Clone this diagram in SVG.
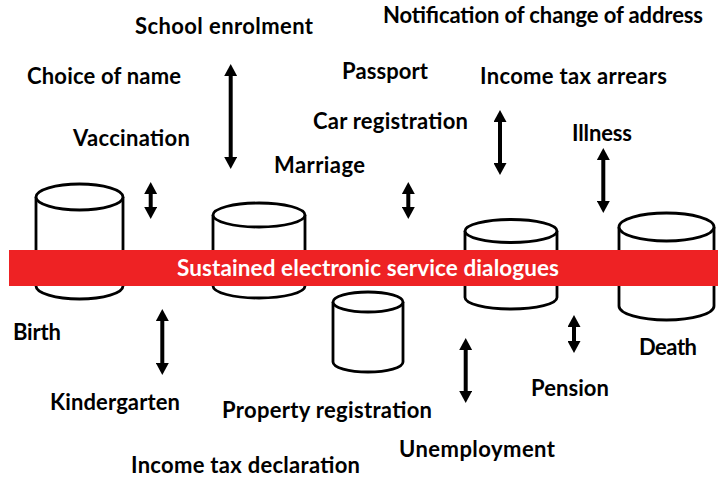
<svg xmlns="http://www.w3.org/2000/svg" width="718" height="479" viewBox="0 0 718 479">
<style>
.cyl{fill:#fff;stroke:#000;stroke-width:2.8}
.lbl{font-family:Lato,"Liberation Sans",sans-serif;font-weight:bold;font-size:22px;fill:#000}
.bar{fill:#EE2224}
.bartxt{font-family:Lato,"Liberation Sans",sans-serif;font-weight:bold;font-size:22.5px;fill:#fff}
.arr{stroke:#000;stroke-width:4;fill:none;marker-start:url(#ah);marker-end:url(#ah)}
</style>
<defs>
<marker id="ah" viewBox="0 0 12 13" markerWidth="12" markerHeight="13" refX="2" refY="6.5" orient="auto-start-reverse" markerUnits="userSpaceOnUse">
<path d="M0,0 L12,6.5 L0,13 Z" fill="#000"/>
</marker>
</defs>
<g id="cylinders">
<g id="cyl-birth"><path class="cyl" d="M36,197 V286 A43.5,13 0 0 0 123,286 V197"/><ellipse class="cyl" cx="79.5" cy="197" rx="43.5" ry="13"/></g>
<g id="cyl-2"><path class="cyl" d="M213,215 V286 A46,12 0 0 0 305,286 V215"/><ellipse class="cyl" cx="259" cy="215" rx="46" ry="12"/></g>
<g id="cyl-4"><path class="cyl" d="M465,231 V297.5 A46,11.5 0 0 0 557,297.5 V231"/><ellipse class="cyl" cx="511" cy="231" rx="46" ry="11.5"/></g>
<g id="cyl-death"><path class="cyl" d="M619,227 V306 A47.5,14 0 0 0 714,306 V227"/><ellipse class="cyl" cx="666.5" cy="227" rx="47.5" ry="14"/></g>
</g>
<g id="band">
<rect class="bar" x="9" y="250" width="709" height="36"/>
<text class="bartxt" x="177" y="276" textLength="382">Sustained electronic service dialogues</text>
</g>
<g id="cyl-3"><path class="cyl" d="M333,302 V362 A35,10 0 0 0 403,362 V302"/><ellipse class="cyl" cx="368" cy="302" rx="35" ry="10"/></g>
<g id="connectors">
<line class="arr" x1="230.7" y1="74" x2="230.7" y2="159"/>
<line class="arr" x1="150.7" y1="192" x2="150.7" y2="209"/>
<line class="arr" x1="162.3" y1="319" x2="162.3" y2="365"/>
<line class="arr" x1="408.3" y1="192" x2="408.3" y2="209"/>
<line class="arr" x1="500" y1="120" x2="500" y2="165"/>
<line class="arr" x1="603.3" y1="158" x2="603.3" y2="203"/>
<line class="arr" x1="465.7" y1="348" x2="465.7" y2="393"/>
<line class="arr" x1="574" y1="325" x2="574" y2="343"/>
</g>
<g id="labels">
<g id="n-school"><text class="lbl" x="135" y="34" textLength="178">School enrolment</text></g>
<g id="n-name"><text class="lbl" x="27" y="84" textLength="154">Choice of name</text></g>
<g id="n-vacc"><text class="lbl" x="73" y="146" textLength="117">Vaccination</text></g>
<g id="n-marriage"><text class="lbl" x="274" y="173" textLength="91">Marriage</text></g>
<g id="n-passport"><text class="lbl" x="342" y="79" textLength="86">Passport</text></g>
<g id="n-notif"><text class="lbl" x="383" y="23" textLength="320">Notification of change of address</text></g>
<g id="n-arrears"><text class="lbl" x="480" y="84" textLength="187">Income tax arrears</text></g>
<g id="n-car"><text class="lbl" x="313" y="129" textLength="155">Car registration</text></g>
<g id="n-illness"><text class="lbl" x="572" y="141" textLength="60">Illness</text></g>
<g id="n-birth"><text class="lbl" x="13" y="340" textLength="48">Birth</text></g>
<g id="n-kinder"><text class="lbl" x="50" y="410" textLength="130">Kindergarten</text></g>
<g id="n-property"><text class="lbl" x="222" y="418" textLength="210">Property registration</text></g>
<g id="n-taxdecl"><text class="lbl" x="131" y="473" textLength="229">Income tax declaration</text></g>
<g id="n-unemp"><text class="lbl" x="399" y="457" textLength="156">Unemployment</text></g>
<g id="n-pension"><text class="lbl" x="531" y="396" textLength="78">Pension</text></g>
<g id="n-death"><text class="lbl" x="639" y="355" textLength="58">Death</text></g>
</g>
</svg>
